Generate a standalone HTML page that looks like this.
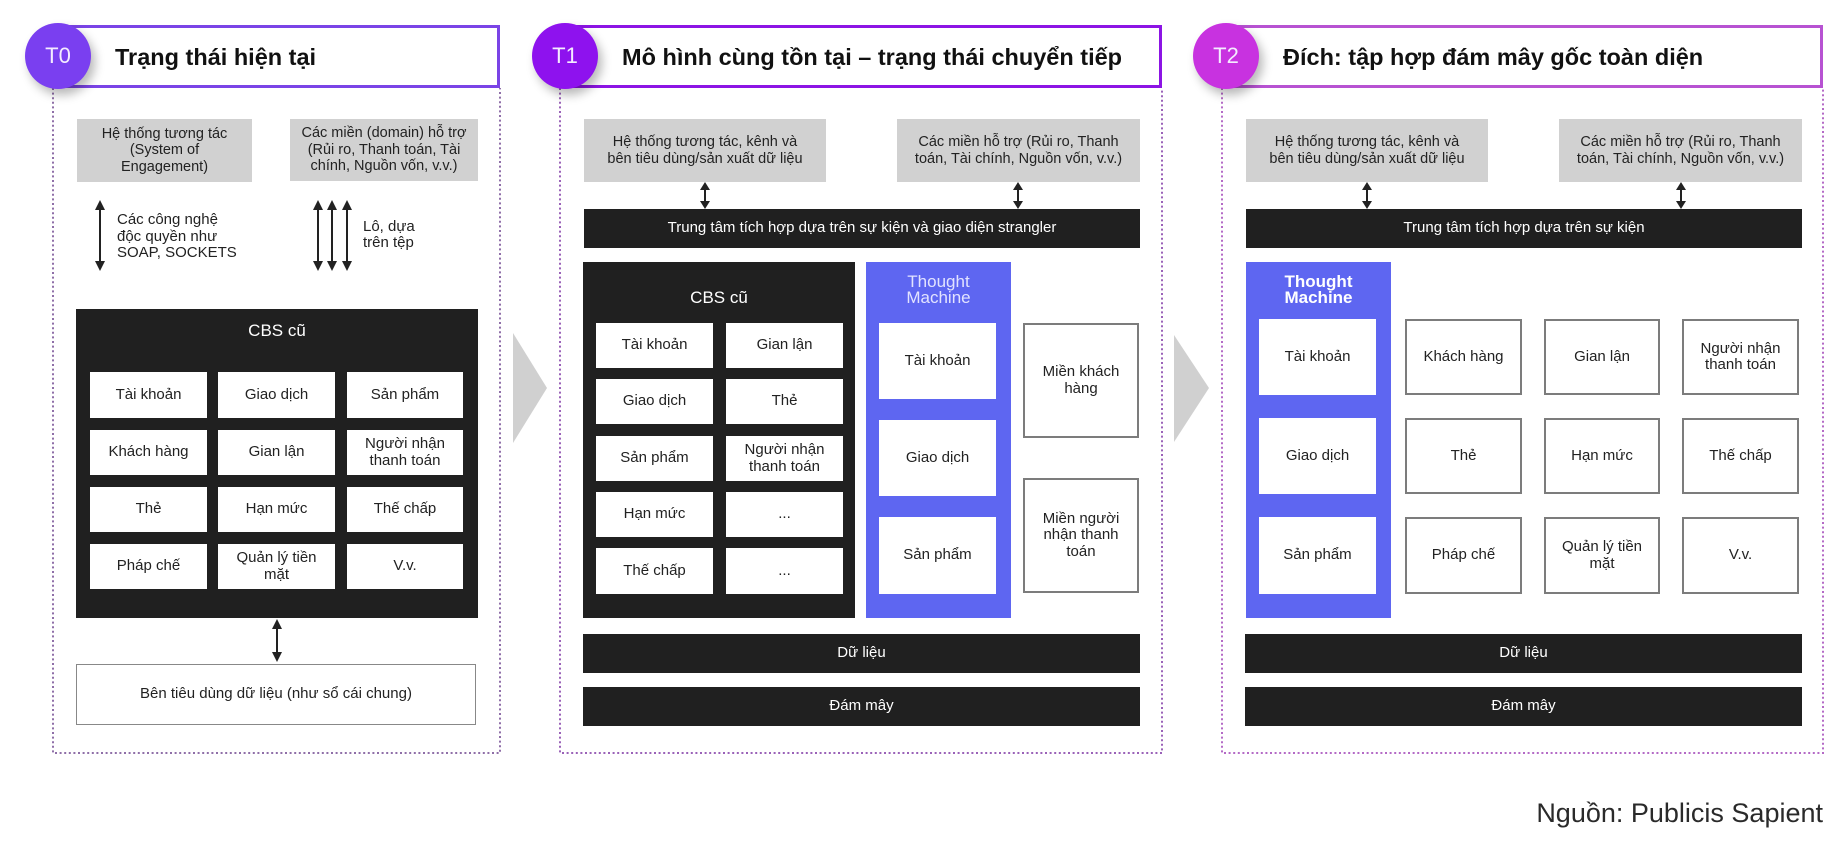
<!DOCTYPE html>
<html><head><meta charset="utf-8">
<style>
*{margin:0;padding:0;box-sizing:border-box}
body{width:1845px;height:852px;background:#fff;position:relative;overflow:hidden;font-family:"Liberation Sans",Arial,sans-serif;color:#222}
.a{position:absolute}
.b{position:absolute;display:flex;align-items:center;justify-content:center;text-align:center;font-size:15px;line-height:16.5px}
.g{background:#d1d1d1;color:#222;font-size:14.5px}
.k{background:#202020;color:#fff}
.w{background:#fff;color:#222}
.o{background:#fff;border:2px solid #7c7c7c;color:#222}
.tm{background:#5e66f1}
.hd{position:absolute;top:25px;height:63px;border:3.5px solid;background:#fff}
.cir{position:absolute;top:23px;width:66px;height:66px;border-radius:50%;color:#f4ecff;font-size:22px;display:flex;align-items:center;justify-content:center;box-shadow:4px 6px 10px rgba(0,0,0,0.28)}
.tt{position:absolute;top:43px;font-size:23.5px;font-weight:bold;color:#111;line-height:28px;white-space:nowrap}
.lbl{position:absolute;font-size:15px;line-height:16.5px;color:#222}
</style></head><body>

<svg class="a" style="left:0;top:0" width="1845" height="852">
  <!-- dotted borders -->
  <g stroke-width="2" stroke-dasharray="2 2.6" fill="none">
    <path d="M53 88 V753 H500 V88" stroke="#8f6fa8"/>
    <path d="M560 88 V753 H1162 V88" stroke="#9a62b8"/>
    <path d="M1222 88 V753 H1823 V88" stroke="#b46ac6"/>
  </g>
  <!-- chevrons -->
  <polygon points="513,333 547,388 513,443" fill="#d0d0d0"/>
  <polygon points="1174,335 1209,388 1174,442" fill="#d0d0d0"/>
  <g stroke="#222" stroke-width="2">
    <line x1="100" y1="207" x2="100" y2="264"/>
    <line x1="318" y1="207" x2="318" y2="264"/>
    <line x1="332" y1="207" x2="332" y2="264"/>
    <line x1="347" y1="207" x2="347" y2="264"/>
    <line x1="277" y1="626" x2="277" y2="655"/>
    <line x1="705" y1="188" x2="705" y2="204"/>
    <line x1="1018" y1="188" x2="1018" y2="204"/>
    <line x1="1367" y1="188" x2="1367" y2="204"/>
    <line x1="1681" y1="188" x2="1681" y2="204"/>
  </g>
  <g fill="#222">
    <polygon points="100,200 95,210 105,210"/><polygon points="100,271 95,261 105,261"/>
    <polygon points="318,200 313,210 323,210"/><polygon points="318,271 313,261 323,261"/>
    <polygon points="332,200 327,210 337,210"/><polygon points="332,271 327,261 337,261"/>
    <polygon points="347,200 342,210 352,210"/><polygon points="347,271 342,261 352,261"/>
    <polygon points="277,619 272,629 282,629"/><polygon points="277,662 272,652 282,652"/>
    <polygon points="705,182 700,190 710,190"/><polygon points="705,209 700,201 710,201"/>
    <polygon points="1018,182 1013,190 1023,190"/><polygon points="1018,209 1013,201 1023,201"/>
    <polygon points="1367,182 1362,190 1372,190"/><polygon points="1367,209 1362,201 1372,201"/>
    <polygon points="1681,182 1676,190 1686,190"/><polygon points="1681,209 1676,201 1686,201"/>
  </g>
</svg>

<!-- Headers -->
<div class="hd" style="left:58px;width:442px;border-color:#7a44e6"></div>
<div class="cir" style="left:25px;background:#7a3ff0">T0</div>
<div class="tt" style="left:115px">Trạng thái hiện tại</div>

<div class="hd" style="left:565px;width:597px;border-color:#8c14e4"></div>
<div class="cir" style="left:532px;background:#8e12ee">T1</div>
<div class="tt" style="left:622px">Mô hình cùng tồn tại – trạng thái chuyển tiếp</div>

<div class="hd" style="left:1226px;width:597px;border-color:#b752d2"></div>
<div class="cir" style="left:1193px;background:#c832e0">T2</div>
<div class="tt" style="left:1283px">Đích: tập hợp đám mây gốc toàn diện</div>

<!-- T0 -->
<div class="b g" style="left:77px;top:119px;width:175px;height:63px">Hệ thống tương tác<br>(System of<br>Engagement)</div>
<div class="b g" style="left:290px;top:119px;width:188px;height:62px">Các miền (domain) hỗ trợ<br>(Rủi ro, Thanh toán, Tài<br>chính, Nguồn vốn, v.v.)</div>
<div class="lbl" style="left:117px;top:212px">Các công nghệ<br>độc quyền như<br>SOAP, SOCKETS</div>
<div class="lbl" style="left:363px;top:219px;line-height:15.5px">Lô, dựa<br>trên tệp</div>

<div class="a k" style="left:76px;top:309px;width:402px;height:309px"></div>
<div class="b" style="left:76px;top:320px;width:402px;height:22px;color:#fff;font-size:17px">CBS cũ</div>

<div class="b w" style="left:90px;top:372px;width:117px;height:46px">Tài khoản</div>
<div class="b w" style="left:218px;top:372px;width:117px;height:46px">Giao dịch</div>
<div class="b w" style="left:347px;top:372px;width:116px;height:46px">Sản phẩm</div>
<div class="b w" style="left:90px;top:430px;width:117px;height:45px">Khách hàng</div>
<div class="b w" style="left:218px;top:430px;width:117px;height:45px">Gian lận</div>
<div class="b w" style="left:347px;top:430px;width:116px;height:45px">Người nhận<br>thanh toán</div>
<div class="b w" style="left:90px;top:487px;width:117px;height:45px">Thẻ</div>
<div class="b w" style="left:218px;top:487px;width:117px;height:45px">Hạn mức</div>
<div class="b w" style="left:347px;top:487px;width:116px;height:45px">Thế chấp</div>
<div class="b w" style="left:90px;top:544px;width:117px;height:45px">Pháp chế</div>
<div class="b w" style="left:218px;top:544px;width:117px;height:45px">Quản lý tiền<br>mặt</div>
<div class="b w" style="left:347px;top:544px;width:116px;height:45px">V.v.</div>

<div class="b" style="left:76px;top:664px;width:400px;height:61px;border:1.5px solid #888;background:#fff">Bên tiêu dùng dữ liệu (như sổ cái chung)</div>

<!-- T1 -->
<div class="b g" style="left:584px;top:119px;width:242px;height:63px">Hệ thống tương tác, kênh và<br>bên tiêu dùng/sản xuất dữ liệu</div>
<div class="b g" style="left:897px;top:119px;width:243px;height:63px">Các miền hỗ trợ (Rủi ro, Thanh<br>toán, Tài chính, Nguồn vốn, v.v.)</div>
<div class="b k" style="left:584px;top:209px;width:556px;height:39px">Trung tâm tích hợp dựa trên sự kiện và giao diện strangler</div>

<div class="a k" style="left:583px;top:262px;width:272px;height:356px"></div>
<div class="b" style="left:583px;top:287px;width:272px;height:22px;color:#fff;font-size:17px">CBS cũ</div>
<div class="b w" style="left:596px;top:323px;width:117px;height:45px">Tài khoản</div>
<div class="b w" style="left:726px;top:323px;width:117px;height:45px">Gian lận</div>
<div class="b w" style="left:596px;top:379px;width:117px;height:45px">Giao dịch</div>
<div class="b w" style="left:726px;top:379px;width:117px;height:45px">Thẻ</div>
<div class="b w" style="left:596px;top:436px;width:117px;height:45px">Sản phẩm</div>
<div class="b w" style="left:726px;top:436px;width:117px;height:45px">Người nhận<br>thanh toán</div>
<div class="b w" style="left:596px;top:492px;width:117px;height:45px">Hạn mức</div>
<div class="b w" style="left:726px;top:492px;width:117px;height:45px">...</div>
<div class="b w" style="left:596px;top:548px;width:117px;height:46px">Thế chấp</div>
<div class="b w" style="left:726px;top:548px;width:117px;height:46px">...</div>

<div class="a tm" style="left:866px;top:262px;width:145px;height:356px"></div>
<div class="b" style="left:866px;top:273px;width:145px;height:34px;color:#e2e3ff;font-size:17px;line-height:16.5px">Thought<br>Machine</div>
<div class="b w" style="left:879px;top:323px;width:117px;height:76px">Tài khoản</div>
<div class="b w" style="left:879px;top:420px;width:117px;height:76px">Giao dịch</div>
<div class="b w" style="left:879px;top:517px;width:117px;height:77px">Sản phẩm</div>

<div class="b o" style="left:1023px;top:323px;width:116px;height:115px">Miền khách<br>hàng</div>
<div class="b o" style="left:1023px;top:478px;width:116px;height:115px">Miền người<br>nhận thanh<br>toán</div>

<div class="b k" style="left:583px;top:634px;width:557px;height:39px">Dữ liệu</div>
<div class="b k" style="left:583px;top:687px;width:557px;height:39px">Đám mây</div>

<!-- T2 -->
<div class="b g" style="left:1246px;top:119px;width:242px;height:63px">Hệ thống tương tác, kênh và<br>bên tiêu dùng/sản xuất dữ liệu</div>
<div class="b g" style="left:1559px;top:119px;width:243px;height:63px">Các miền hỗ trợ (Rủi ro, Thanh<br>toán, Tài chính, Nguồn vốn, v.v.)</div>
<div class="b k" style="left:1246px;top:209px;width:556px;height:39px">Trung tâm tích hợp dựa trên sự kiện</div>

<div class="a tm" style="left:1246px;top:262px;width:145px;height:356px"></div>
<div class="b" style="left:1246px;top:273px;width:145px;height:34px;color:#fff;font-size:17px;font-weight:bold;line-height:16.5px">Thought<br>Machine</div>
<div class="b w" style="left:1259px;top:319px;width:117px;height:76px">Tài khoản</div>
<div class="b w" style="left:1259px;top:418px;width:117px;height:76px">Giao dịch</div>
<div class="b w" style="left:1259px;top:517px;width:117px;height:77px">Sản phẩm</div>

<div class="b o" style="left:1405px;top:319px;width:117px;height:76px">Khách hàng</div>
<div class="b o" style="left:1544px;top:319px;width:116px;height:76px">Gian lận</div>
<div class="b o" style="left:1682px;top:319px;width:117px;height:76px">Người nhận<br>thanh toán</div>
<div class="b o" style="left:1405px;top:418px;width:117px;height:76px">Thẻ</div>
<div class="b o" style="left:1544px;top:418px;width:116px;height:76px">Hạn mức</div>
<div class="b o" style="left:1682px;top:418px;width:117px;height:76px">Thế chấp</div>
<div class="b o" style="left:1405px;top:517px;width:117px;height:77px">Pháp chế</div>
<div class="b o" style="left:1544px;top:517px;width:116px;height:77px">Quản lý tiền<br>mặt</div>
<div class="b o" style="left:1682px;top:517px;width:117px;height:77px">V.v.</div>

<div class="b k" style="left:1245px;top:634px;width:557px;height:39px">Dữ liệu</div>
<div class="b k" style="left:1245px;top:687px;width:557px;height:39px">Đám mây</div>

<div class="a" style="right:22px;top:796px;font-size:27px;line-height:34px;color:#2a2a2a;white-space:nowrap">Nguồn: Publicis Sapient</div>

</body></html>
